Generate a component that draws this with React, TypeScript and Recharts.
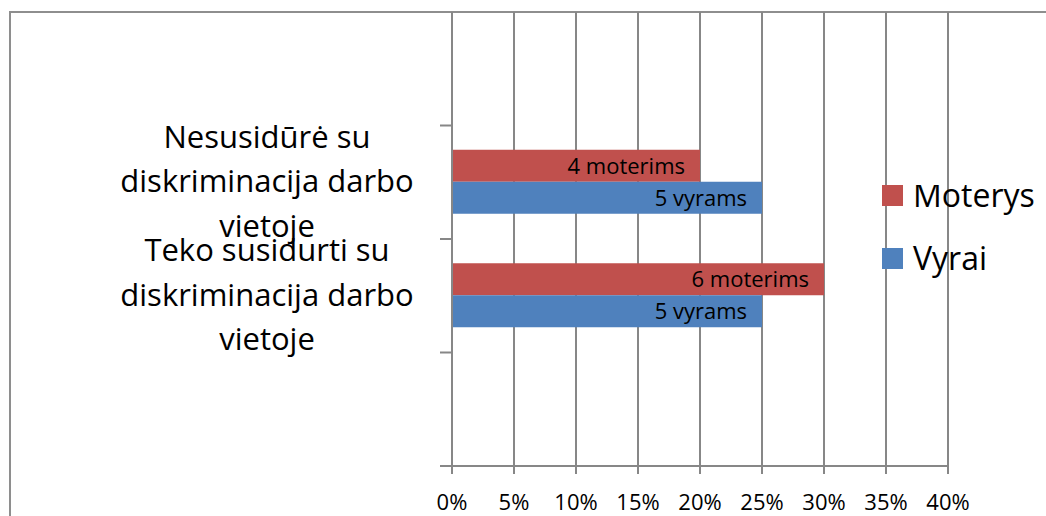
import { BarChart, Bar, XAxis, YAxis, CartesianGrid, Legend, LabelList } from 'recharts';

const categories = [
  '',
  'Nesusidūrė su diskriminacija darbo vietoje',
  'Teko susidurti su diskriminacija darbo vietoje',
  ' ',
];
const categoryLines = [
  [],
  ['Nesusidūrė su', 'diskriminacija darbo', 'vietoje'],
  ['Teko susidurti su', 'diskriminacija darbo', 'vietoje'],
  [],
];
const moterys = [null, 0.2, 0.3, null];
const vyrai = [null, 0.25, 0.25, null];
const moterysLabels = ['', '4 moterims', '6 moterims', ''];
const vyraiLabels = ['', '5 vyrams', '5 vyrams', ''];
const xTicks = [0, 0.05, 0.1, 0.15, 0.2, 0.25, 0.3, 0.35, 0.4];

const series = [
  { key: 'Moterys', color: '#C0504D', labelKey: 'moterysLabel' },
  { key: 'Vyrai', color: '#4F81BD', labelKey: 'vyraiLabel' },
];

const data = categories.map((name, i) => ({
  name,
  Moterys: moterys[i],
  Vyrai: vyrai[i],
  moterysLabel: moterysLabels[i],
  vyraiLabel: vyraiLabels[i],
}));

const FONT = '"Open Sans", sans-serif';
const GRID = '#878787';
const PLOT_TOP = 12;
const PLOT_BOTTOM = 466;
const BAND = (PLOT_BOTTOM - PLOT_TOP) / categories.length;

function CategoryTick(props: any) {
  const { x, y, index } = props;
  const lines: string[] = categoryLines[index] || [];
  const first = y + 10 - (44.5 * (lines.length - 1)) / 2;
  return (
    <g>
      <line x1={x - 12} x2={x} y1={y + BAND / 2} y2={y + BAND / 2} stroke={GRID} strokeWidth={2} />
      {lines.length > 0 && (
        <text x={x - 185} y={first} textAnchor="middle" fontSize={31} fill="#000" fontFamily={FONT}>
          {lines.map((l, k) => (
            <tspan key={k} x={x - 185} y={first + k * 44.5}>{l}</tspan>
          ))}
        </text>
      )}
    </g>
  );
}

function BarLabel(props: any) {
  const { x, y, width, height, value } = props;
  if (!value) return null;
  return (
    <text x={x + width - 15} y={y + height / 2 + 8} textAnchor="end" fontSize={22} fill="#000" fontFamily={FONT}>
      {value}
    </text>
  );
}

function LegendBox() {
  return (
    <svg width={160} height={110}>
      {series.map((s, i) => (
        <g key={s.key}>
          <rect x={0} y={i * 63} width={21} height={21} fill={s.color} />
          <text x={31} y={i * 63 + 22} fontSize={32} fill="#000" fontFamily={FONT}>{s.key}</text>
        </g>
      ))}
    </svg>
  );
}

export default function App() {
  return (
    <div style={{ position: 'absolute', left: 0, top: 0, width: 1046, height: 516, overflow: 'hidden', background: '#fff' }}>
      <div style={{ position: 'absolute', left: 9, top: 11, width: 1100, height: 600, borderTop: '2px solid #8e8e8e', borderLeft: '2px solid #8e8e8e' }} />
      <div style={{ position: 'absolute', left: 0, top: 0 }}>
        <BarChart
          width={1046}
          height={516}
          data={data}
          layout="vertical"
          margin={{ top: PLOT_TOP, right: 98, bottom: 0, left: 0 }}
          barGap={0}
          barCategoryGap="21.4%"
        >
          <CartesianGrid horizontal={false} stroke={GRID} strokeWidth={2} />
          <XAxis
            type="number"
            domain={[0, 0.4]}
            ticks={xTicks}
            tickFormatter={(v: number) => `${Math.round(v * 100)}%`}
            axisLine={{ stroke: GRID, strokeWidth: 2 }}
            tickLine={{ stroke: GRID, strokeWidth: 2 }}
            tickSize={8}
            tickMargin={20}
            tick={{ fill: '#000', fontSize: 22, fontFamily: FONT }}
            height={516 - PLOT_BOTTOM}
            interval={0}
          />
          <YAxis
            type="category"
            dataKey="name"
            width={452}
            axisLine={{ stroke: GRID, strokeWidth: 2 }}
            tickLine={false}
            tickSize={0}
            tickMargin={0}
            tick={<CategoryTick />}
            interval={0}
          />
          <Legend
            layout="horizontal"
            align="center"
            verticalAlign="middle"
            content={<LegendBox />}
            wrapperStyle={{ position: 'absolute', left: 882, top: 185, width: 160, height: 110 }}
          />
          {series.map((s) => (
            <Bar key={s.key} dataKey={s.key} fill={s.color} isAnimationActive={false}>
              <LabelList dataKey={s.labelKey} content={<BarLabel />} />
            </Bar>
          ))}
        </BarChart>
      </div>
    </div>
  );
}
